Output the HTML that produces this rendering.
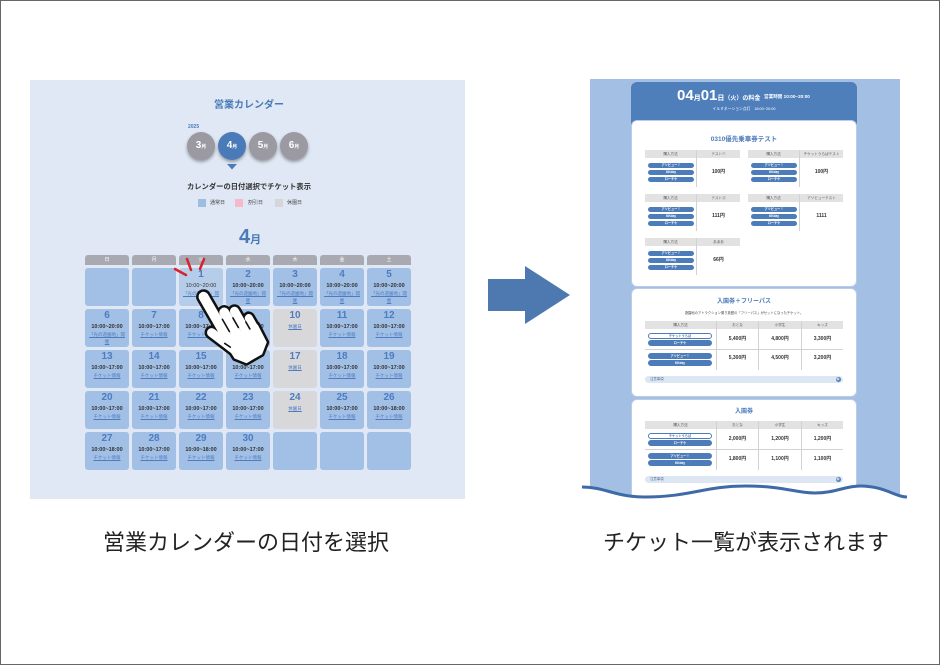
<!DOCTYPE html>
<html><head><meta charset="utf-8"><style>
*{margin:0;padding:0;box-sizing:border-box}
body{width:940px;height:665px;position:relative;background:#fff;font-family:"Liberation Sans","Noto Sans CJK JP",sans-serif;overflow:hidden}
.frame{position:absolute;left:0;top:0;width:940px;height:665px;border:1px solid #666;z-index:50}
.a{position:absolute;white-space:nowrap}
.lp{position:absolute;left:30px;top:80px;width:435px;height:419px;background:#dfe8f4}
.mc{position:absolute;top:132px;width:28px;height:28px;border-radius:50%;background:#9b9aa2;color:#fff;font-weight:bold;font-size:10px;line-height:28px;text-align:center;box-shadow:0 2px 3px rgba(0,0,0,.35)}
.mc span{font-size:5px}
.hd{position:absolute;top:255px;width:44px;height:10px;background:#a9a9b1;border-radius:3px 3px 0 0;color:#fff;font-size:5px;line-height:10px;text-align:center}
.c{position:absolute;width:44px;height:38px;border-radius:3px;background:#a2bfe5;text-align:center;white-space:nowrap}
.c.g{background:#d8d8da}
.c.h{background:#b6cdea}
.n{position:absolute;left:0;right:0;top:1px;font-size:10px;line-height:12px;font-weight:bold;color:#4d7cc0}
.t{position:absolute;left:0;right:0;top:15px;font-size:5.5px;line-height:6px;font-weight:bold;color:#333}
.l{position:absolute;left:0;right:0;top:22px;font-size:4.5px;line-height:7px;color:#4d7cc0;text-decoration:underline}
.g .l{top:14px}
.rp{position:absolute;left:590px;top:79px;width:310px;height:430px;background:#a3bfe3}
.hdr{position:absolute;left:631px;top:82px;width:226px;height:46px;background:#4e7fbb;border-radius:6px 6px 0 0}
.sec{position:absolute;left:631px;width:226px;background:#fff;border:1px solid #b9cde8;border-radius:6px}
.tt{position:absolute;left:631px;width:226px;text-align:center;font-weight:bold;color:#4d7cbb;white-space:nowrap}
.th{position:absolute;height:8px;background:#e2e2e2;font-size:3.6px;line-height:8px;color:#555;text-align:center;white-space:nowrap}
.p{position:absolute;height:5px;border-radius:3px;background:#4d7cbb;color:#fff;font-size:3.2px;line-height:5px;text-align:center;font-weight:bold;white-space:nowrap}
.p.w{width:46px}
.p.x{width:64px;height:6px;line-height:6px}
.p.o{background:#fff;border:0.8px solid #4d7cbb;color:#4d7cbb;line-height:4.4px}
.pr{position:absolute;font-size:5px;font-weight:bold;color:#333;text-align:center;white-space:nowrap;line-height:6px}
.vl{position:absolute;width:1.5px;background:#d2d2d2}
.hl{position:absolute;height:1px;background:#d2d2d2}
.nb{position:absolute;left:645px;width:198px;height:7px;background:#dde7f4;border-radius:4px;font-size:3.4px;line-height:7px;color:#4d6a90;padding-left:5px}
.nb i{position:absolute;right:2px;top:1px;width:5px;height:5px;border-radius:50%;background:#4d7cbb}
.bt{position:absolute;top:531px;font-size:22px;line-height:24px;color:#222;white-space:nowrap}
</style></head><body>
<div class="frame"></div>

<!-- LEFT PANEL -->
<div class="lp"></div>
<div class="a" style="left:30px;width:438px;top:100px;text-align:center;font-size:10px;line-height:12px;font-weight:bold;color:#4a7ab8">営業カレンダー</div>
<div class="a" style="left:188px;top:124px;font-size:5px;line-height:6px;font-weight:bold;color:#4d7cc0">2025</div>
<div class="mc" style="left:187px">3<span>月</span></div>
<div class="mc" style="left:218px;background:#4a7ab8">4<span>月</span></div>
<div class="mc" style="left:249px">5<span>月</span></div>
<div class="mc" style="left:280px">6<span>月</span></div>
<div class="a" style="left:30px;width:438px;top:182px;text-align:center;font-size:7.3px;line-height:9px;font-weight:bold;color:#333">カレンダーの日付選択でチケット表示</div>
<div class="a" style="left:198px;top:199px;width:8px;height:8px;background:#9dbde3"></div>
<div class="a" style="left:210px;top:199px;font-size:5px;line-height:8px;color:#444">通常日</div>
<div class="a" style="left:235px;top:199px;width:8px;height:8px;background:#f6b9c9"></div>
<div class="a" style="left:248px;top:199px;font-size:5px;line-height:8px;color:#444">割引日</div>
<div class="a" style="left:275px;top:199px;width:8px;height:8px;background:#d6d6d8"></div>
<div class="a" style="left:287px;top:199px;font-size:5px;line-height:8px;color:#444">休園日</div>
<div class="a" style="left:30px;width:440px;top:226px;text-align:center;font-size:20px;line-height:22px;font-weight:bold;color:#4a7ab8">4<span style="font-size:11px">月</span></div>

<div class="hd" style="left:85px">日</div>
<div class="hd" style="left:132px">月</div>
<div class="hd" style="left:179px">火</div>
<div class="hd" style="left:226px">水</div>
<div class="hd" style="left:273px">木</div>
<div class="hd" style="left:320px">金</div>
<div class="hd" style="left:367px">土</div>

<!-- row 1 -->
<div class="c" style="left:85px;top:268px"></div>
<div class="c" style="left:132px;top:268px"></div>
<div class="c h" style="left:179px;top:268px"><div class="n">1</div><div class="t" style="font-weight:normal">10:00~20:00</div><div class="l">「光の遊園地」開<br>催</div></div>
<div class="c" style="left:226px;top:268px"><div class="n">2</div><div class="t">10:00~20:00</div><div class="l">「光の遊園地」開<br>催</div></div>
<div class="c" style="left:273px;top:268px"><div class="n">3</div><div class="t">10:00~20:00</div><div class="l">「光の遊園地」開<br>催</div></div>
<div class="c" style="left:320px;top:268px"><div class="n">4</div><div class="t">10:00~20:00</div><div class="l">「光の遊園地」開<br>催</div></div>
<div class="c" style="left:367px;top:268px"><div class="n">5</div><div class="t">10:00~20:00</div><div class="l">「光の遊園地」開<br>催</div></div>
<!-- row 2 -->
<div class="c" style="left:85px;top:309px"><div class="n">6</div><div class="t">10:00~20:00</div><div class="l">「光の遊園地」開<br>催</div></div>
<div class="c" style="left:132px;top:309px"><div class="n">7</div><div class="t">10:00~17:00</div><div class="l">チケット情報</div></div>
<div class="c" style="left:179px;top:309px"><div class="n">8</div><div class="t">10:00~17:00</div><div class="l">チケット情報</div></div>
<div class="c" style="left:226px;top:309px"><div class="n">9</div><div class="t">10:00~17:00</div><div class="l">チケット情報</div></div>
<div class="c g" style="left:273px;top:309px"><div class="n">10</div><div class="l">休園日</div></div>
<div class="c" style="left:320px;top:309px"><div class="n">11</div><div class="t">10:00~17:00</div><div class="l">チケット情報</div></div>
<div class="c" style="left:367px;top:309px"><div class="n">12</div><div class="t">10:00~17:00</div><div class="l">チケット情報</div></div>
<!-- row 3 -->
<div class="c" style="left:85px;top:350px"><div class="n">13</div><div class="t">10:00~17:00</div><div class="l">チケット情報</div></div>
<div class="c" style="left:132px;top:350px"><div class="n">14</div><div class="t">10:00~17:00</div><div class="l">チケット情報</div></div>
<div class="c" style="left:179px;top:350px"><div class="n">15</div><div class="t">10:00~17:00</div><div class="l">チケット情報</div></div>
<div class="c" style="left:226px;top:350px"><div class="n">16</div><div class="t">10:00~17:00</div><div class="l">チケット情報</div></div>
<div class="c g" style="left:273px;top:350px"><div class="n">17</div><div class="l">休園日</div></div>
<div class="c" style="left:320px;top:350px"><div class="n">18</div><div class="t">10:00~17:00</div><div class="l">チケット情報</div></div>
<div class="c" style="left:367px;top:350px"><div class="n">19</div><div class="t">10:00~17:00</div><div class="l">チケット情報</div></div>
<!-- row 4 -->
<div class="c" style="left:85px;top:391px"><div class="n">20</div><div class="t">10:00~17:00</div><div class="l">チケット情報</div></div>
<div class="c" style="left:132px;top:391px"><div class="n">21</div><div class="t">10:00~17:00</div><div class="l">チケット情報</div></div>
<div class="c" style="left:179px;top:391px"><div class="n">22</div><div class="t">10:00~17:00</div><div class="l">チケット情報</div></div>
<div class="c" style="left:226px;top:391px"><div class="n">23</div><div class="t">10:00~17:00</div><div class="l">チケット情報</div></div>
<div class="c g" style="left:273px;top:391px"><div class="n">24</div><div class="l">休園日</div></div>
<div class="c" style="left:320px;top:391px"><div class="n">25</div><div class="t">10:00~17:00</div><div class="l">チケット情報</div></div>
<div class="c" style="left:367px;top:391px"><div class="n">26</div><div class="t">10:00~18:00</div><div class="l">チケット情報</div></div>
<!-- row 5 -->
<div class="c" style="left:85px;top:432px"><div class="n">27</div><div class="t">10:00~18:00</div><div class="l">チケット情報</div></div>
<div class="c" style="left:132px;top:432px"><div class="n">28</div><div class="t">10:00~17:00</div><div class="l">チケット情報</div></div>
<div class="c" style="left:179px;top:432px"><div class="n">29</div><div class="t">10:00~18:00</div><div class="l">チケット情報</div></div>
<div class="c" style="left:226px;top:432px"><div class="n">30</div><div class="t">10:00~17:00</div><div class="l">チケット情報</div></div>
<div class="c" style="left:273px;top:432px"></div>
<div class="c" style="left:320px;top:432px"></div>
<div class="c" style="left:367px;top:432px"></div>

<!-- RIGHT PANEL -->
<div class="rp"></div>
<div class="hdr"></div>
<div class="a" style="left:677px;top:88px;color:#fff;font-weight:bold;line-height:16px"><span style="font-size:15px">04</span><span style="font-size:7px">月</span><span style="font-size:15px">01</span><span style="font-size:7px">日</span><span style="font-size:6px">（火）の料金</span></div>
<div class="a" style="left:764px;top:94px;color:#fff;font-weight:bold;font-size:4.6px;line-height:6px">営業時間 10:00~20:00</div>
<div class="a" style="left:631px;width:226px;top:106px;text-align:center;color:#fff;font-size:3.8px;line-height:6px">イルミネーション点灯　18:00~20:00</div>

<div class="sec" style="top:120px;height:167px"></div>
<div class="tt" style="top:136px;font-size:6.5px;line-height:8px">0310優先乗車券テスト</div>

<!-- table A -->
<div class="th" style="left:645px;top:150px;width:51px">購入方法</div>
<div class="th" style="left:697px;top:150px;width:43px">テスト①</div>
<div class="vl" style="left:695.5px;top:150px;height:37px"></div>
<div class="p w" style="left:648px;top:162.5px">アソビュー！</div>
<div class="p w" style="left:648px;top:169.5px">KKday</div>
<div class="p w" style="left:648px;top:176.5px">ローチケ</div>
<div class="pr" style="left:697px;width:43px;top:169px">100円</div>
<!-- table B -->
<div class="th" style="left:748px;top:150px;width:51px">購入方法</div>
<div class="th" style="left:800px;top:150px;width:43px">チケットうらばテスト</div>
<div class="vl" style="left:798.5px;top:150px;height:37px"></div>
<div class="p w" style="left:751px;top:162.5px">アソビュー！</div>
<div class="p w" style="left:751px;top:169.5px">KKday</div>
<div class="p w" style="left:751px;top:176.5px">ローチケ</div>
<div class="pr" style="left:800px;width:43px;top:169px">100円</div>
<!-- table C -->
<div class="th" style="left:645px;top:194px;width:51px">購入方法</div>
<div class="th" style="left:697px;top:194px;width:43px">テスト②</div>
<div class="vl" style="left:695.5px;top:194px;height:37px"></div>
<div class="p w" style="left:648px;top:206.5px">アソビュー！</div>
<div class="p w" style="left:648px;top:213.5px">KKday</div>
<div class="p w" style="left:648px;top:220.5px">ローチケ</div>
<div class="pr" style="left:697px;width:43px;top:213px">111円</div>
<!-- table D -->
<div class="th" style="left:748px;top:194px;width:51px">購入方法</div>
<div class="th" style="left:800px;top:194px;width:43px">アソビューテスト</div>
<div class="vl" style="left:798.5px;top:194px;height:37px"></div>
<div class="p w" style="left:751px;top:206.5px">アソビュー！</div>
<div class="p w" style="left:751px;top:213.5px">KKday</div>
<div class="p w" style="left:751px;top:220.5px">ローチケ</div>
<div class="pr" style="left:800px;width:43px;top:213px">1111</div>
<!-- table E -->
<div class="th" style="left:645px;top:238px;width:51px">購入方法</div>
<div class="th" style="left:697px;top:238px;width:43px">あああ</div>
<div class="vl" style="left:695.5px;top:238px;height:37px"></div>
<div class="p w" style="left:648px;top:250.5px">アソビュー！</div>
<div class="p w" style="left:648px;top:257.5px">KKday</div>
<div class="p w" style="left:648px;top:264.5px">ローチケ</div>
<div class="pr" style="left:697px;width:43px;top:257px">66円</div>

<!-- section 2 -->
<div class="sec" style="top:288px;height:109px"></div>
<div class="tt" style="top:298px;font-size:6px;line-height:8px">入園券＋フリーパス</div>
<div class="a" style="left:631px;width:226px;top:311px;text-align:center;font-size:3.3px;line-height:5px;color:#444">遊園地のアトラクション乗り放題の「フリーパス」がセットになったチケット。</div>
<div class="th" style="left:645px;top:321px;width:71px">購入方法</div>
<div class="th" style="left:717px;top:321px;width:41px">おとな</div>
<div class="th" style="left:759px;top:321px;width:42px">小学生</div>
<div class="th" style="left:802px;top:321px;width:41px">キッズ</div>
<div class="vl" style="left:715.5px;top:321px;height:49px"></div>
<div class="vl" style="left:757.5px;top:321px;height:49px"></div>
<div class="vl" style="left:800.5px;top:321px;height:49px"></div>
<div class="hl" style="left:645px;top:349px;width:198px"></div>
<div class="p x o" style="left:648px;top:333px">チケットうらば</div>
<div class="p x" style="left:648px;top:340px">ローチケ</div>
<div class="pr" style="left:717px;width:41px;top:336px">5,400円</div>
<div class="pr" style="left:759px;width:42px;top:336px">4,800円</div>
<div class="pr" style="left:802px;width:41px;top:336px">3,300円</div>
<div class="p x" style="left:648px;top:353px">アソビュー！</div>
<div class="p x" style="left:648px;top:360px">KKday</div>
<div class="pr" style="left:717px;width:41px;top:355px">5,300円</div>
<div class="pr" style="left:759px;width:42px;top:355px">4,500円</div>
<div class="pr" style="left:802px;width:41px;top:355px">3,200円</div>
<div class="nb" style="top:375.5px">注意事項<i></i></div>

<!-- section 3 -->
<div class="sec" style="top:399px;height:115px"></div>
<div class="tt" style="top:408px;font-size:6px;line-height:8px">入園券</div>
<div class="th" style="left:645px;top:421px;width:71px">購入方法</div>
<div class="th" style="left:717px;top:421px;width:41px">おとな</div>
<div class="th" style="left:759px;top:421px;width:42px">小学生</div>
<div class="th" style="left:802px;top:421px;width:41px">キッズ</div>
<div class="vl" style="left:715.5px;top:421px;height:49px"></div>
<div class="vl" style="left:757.5px;top:421px;height:49px"></div>
<div class="vl" style="left:800.5px;top:421px;height:49px"></div>
<div class="hl" style="left:645px;top:449px;width:198px"></div>
<div class="p x o" style="left:648px;top:433px">チケットうらば</div>
<div class="p x" style="left:648px;top:440px">ローチケ</div>
<div class="pr" style="left:717px;width:41px;top:436px">2,000円</div>
<div class="pr" style="left:759px;width:42px;top:436px">1,200円</div>
<div class="pr" style="left:802px;width:41px;top:436px">1,200円</div>
<div class="p x" style="left:648px;top:453px">アソビュー！</div>
<div class="p x" style="left:648px;top:460px">KKday</div>
<div class="pr" style="left:717px;width:41px;top:456px">1,800円</div>
<div class="pr" style="left:759px;width:42px;top:456px">1,100円</div>
<div class="pr" style="left:802px;width:41px;top:456px">1,100円</div>
<div class="nb" style="top:475.5px">注意事項<i></i></div>

<!-- overlay graphics -->
<svg class="a" style="left:0;top:0;z-index:10" width="940" height="665" viewBox="0 0 940 665">
  <polygon points="227,164 237,164 232,169.5" fill="#4a7ab8"/>
  <!-- note bar plus signs -->
  <g stroke="#fff" stroke-width="0.8">
    <line x1="836.5" y1="379" x2="839.5" y2="379"/><line x1="838" y1="377.5" x2="838" y2="380.5"/>
    <line x1="836.5" y1="479" x2="839.5" y2="479"/><line x1="838" y1="477.5" x2="838" y2="480.5"/>
  </g>
  <!-- sparkles -->
  <g stroke="#d8222a" stroke-width="2.5" stroke-linecap="round">
    <line x1="175" y1="269" x2="186" y2="275"/>
    <line x1="187" y1="259" x2="191" y2="270"/>
    <line x1="204" y1="259" x2="200" y2="269"/>
  </g>
  <!-- hand -->
  <g transform="translate(247,356) rotate(-30)" stroke-linecap="round" stroke-linejoin="round">
    <g stroke="#111">
      <line x1="-8" y1="-73" x2="-8" y2="-25" stroke-width="15"/>
      <line x1="2" y1="-49" x2="2" y2="-25" stroke-width="15"/>
      <line x1="11.5" y1="-45" x2="11.5" y2="-25" stroke-width="14"/>
      <line x1="20.5" y1="-32" x2="20.5" y2="-18" stroke-width="13"/>
      <line x1="-19" y1="-38" x2="-8" y2="-12" stroke-width="14"/>
      <polygon points="-13,-28 25,-22 24,-2 14,6 -4,6 -12,-4" fill="#111" stroke-width="5"/>
    </g>
    <g stroke="#fff">
      <line x1="-8" y1="-73" x2="-8" y2="-25" stroke-width="10"/>
      <line x1="2" y1="-49" x2="2" y2="-25" stroke-width="10"/>
      <line x1="11.5" y1="-45" x2="11.5" y2="-25" stroke-width="9"/>
      <line x1="20.5" y1="-32" x2="20.5" y2="-18" stroke-width="8"/>
      <line x1="-19" y1="-38" x2="-8" y2="-12" stroke-width="9"/>
    </g>
    <polygon points="-13,-28 25,-22 24,-2 14,6 -4,6 -12,-4" fill="#fff"/>
    <g stroke="#111" stroke-width="1.6">
      <line x1="-3" y1="-44" x2="-3" y2="-30"/>
      <line x1="6.8" y1="-40" x2="6.8" y2="-29"/>
      <line x1="16" y1="-30" x2="16" y2="-22"/>
      <line x1="-13" y1="-22" x2="-10" y2="-16"/>
    </g>
  </g>
  <!-- arrow -->
  <polygon points="488,279 525,279 525,266 570,295 525,324 525,311 488,311" fill="#4e79b0"/>
  <!-- wave -->
  <path d="M582,487 C605,487 615,497 645,497 C690,497 705,486 745,486 C785,486 795,493 815,493 C835,493 845,486 860,486 C885,486 895,497 907,497 L907,520 L582,520 Z" fill="#fff"/>
  <path d="M582,487 C605,487 615,497 645,497 C690,497 705,486 745,486 C785,486 795,493 815,493 C835,493 845,486 860,486 C885,486 895,497 907,497" fill="none" stroke="#3f6aa8" stroke-width="3"/>
</svg>

<div class="bt" style="left:103px">営業カレンダーの日付を選択</div>
<div class="bt" style="left:603px">チケット一覧が表示されます</div>
</body></html>
